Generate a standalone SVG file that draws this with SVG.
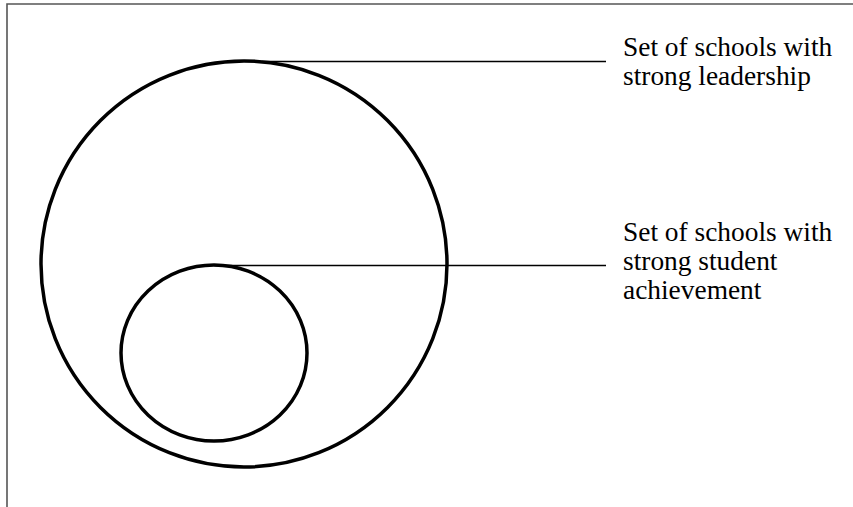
<svg xmlns="http://www.w3.org/2000/svg" width="853" height="507" viewBox="0 0 853 507">
<style>
.set{fill:none;stroke:#000;stroke-width:3.5}
.lead{stroke:#000;stroke-width:1.3}
.lbl{font-family:"Liberation Serif","Times New Roman",serif;font-size:27.4px;fill:#000}
.frame{fill:none;stroke:#555;stroke-width:1.6}
</style>
<rect width="853" height="507" fill="#fff"/>
<path class="frame" d="M7,507 V4 H853"/>
<g id="leadership-set">
<circle class="set" cx="244" cy="264" r="203"/>
</g>
<g id="achievement-set">
<ellipse class="set" cx="214" cy="353" rx="93" ry="88"/>
</g>
<g id="connectors">
<line class="lead" x1="262" y1="61.5" x2="606" y2="61.5"/>
<line class="lead" x1="214" y1="265.5" x2="606" y2="265.5"/>
</g>
<g id="label-leadership">
<text class="lbl" x="623" y="56">Set of schools with</text>
<text class="lbl" x="623" y="85">strong leadership</text>
</g>
<g id="label-achievement">
<text class="lbl" x="623" y="241">Set of schools with</text>
<text class="lbl" x="623" y="270">strong student</text>
<text class="lbl" x="623" y="299">achievement</text>
</g>
</svg>
